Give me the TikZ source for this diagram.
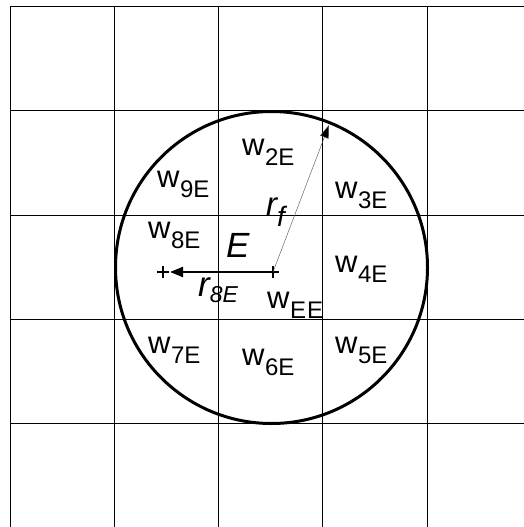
\documentclass[tikz,border=0pt]{standalone}
\usepackage{fontspec}
\setmainfont{Liberation Sans}
\usetikzlibrary{arrows.meta,shapes.misc}
\newcommand\wlab[1]{{\fontsize{31}{31}\selectfont w}\kern0.5pt\raisebox{-10pt}{\fontsize{24}{24}\selectfont #1}}
\begin{document}
\begin{tikzpicture}[x=1pt,y=-1pt,
  lab/.style={inner sep=0pt, anchor=base west},
  gridline/.style={line width=0.9pt, black},
  pluss/.style={draw, cross out, rotate=45, minimum size=7.5pt, inner sep=0pt, line width=1.1pt}]
\useasboundingbox[fill=white] (0,0) rectangle (524,527);
\foreach \x in {10.3,114.5,218.7,322.9,427.1} \draw[gridline] (\x,6.7) -- (\x,527);
\foreach \y in {6.7,110.9,215.1,319.3,423.5} \draw[gridline] (10.3,\y) -- (524,\y);
\draw[line width=3pt] (271.5,267.5) circle[radius=156pt];
% centre and target marks
\node[pluss] (c) at (273,272) {};
\node[pluss] (p8) at (163,272) {};
\coordinate (tipf) at (329,125);
\draw[line width=2pt, -{Triangle[length=13pt,width=10pt]}] (c.center) -- ([xshift=7pt]p8.center);
\draw[line width=0.4pt, black!70, -{Triangle[length=13pt,width=9pt,fill=black]}] (c.center) -- (tipf);
% labels
\node[lab] (w9) at (157,187) {\wlab{9E}};
\node[lab] (w2) at (242,155) {\wlab{2E}};
\node[lab] (w3) at (335,198) {\wlab{3E}};
\node[lab] (w8) at (148,238) {\wlab{8E}};
\node[lab] (w4) at (335,272) {\wlab{4E}};
\node[lab] (wE) at (267,308) {\wlab{E\kern1pt E}};
\node[lab] (w7) at (148,353) {\wlab{7E}};
\node[lab] (w6) at (242,365) {\wlab{6E}};
\node[lab] (w5) at (335,353) {\wlab{5E}};
\node[lab] (E) at (226,257) {\fontsize{35}{35}\selectfont\itshape E};
\node[lab] (r8) at (198,296) {{\fontsize{35}{35}\selectfont\itshape r}\raisebox{-6pt}{\fontsize{23}{23}\selectfont\itshape 8E}};
\node[lab] (rf) at (266,215) {{\fontsize{33}{33}\selectfont\itshape r}\raisebox{-11pt}{\fontsize{28}{28}\selectfont\itshape f}};
\end{tikzpicture}
\end{document}
